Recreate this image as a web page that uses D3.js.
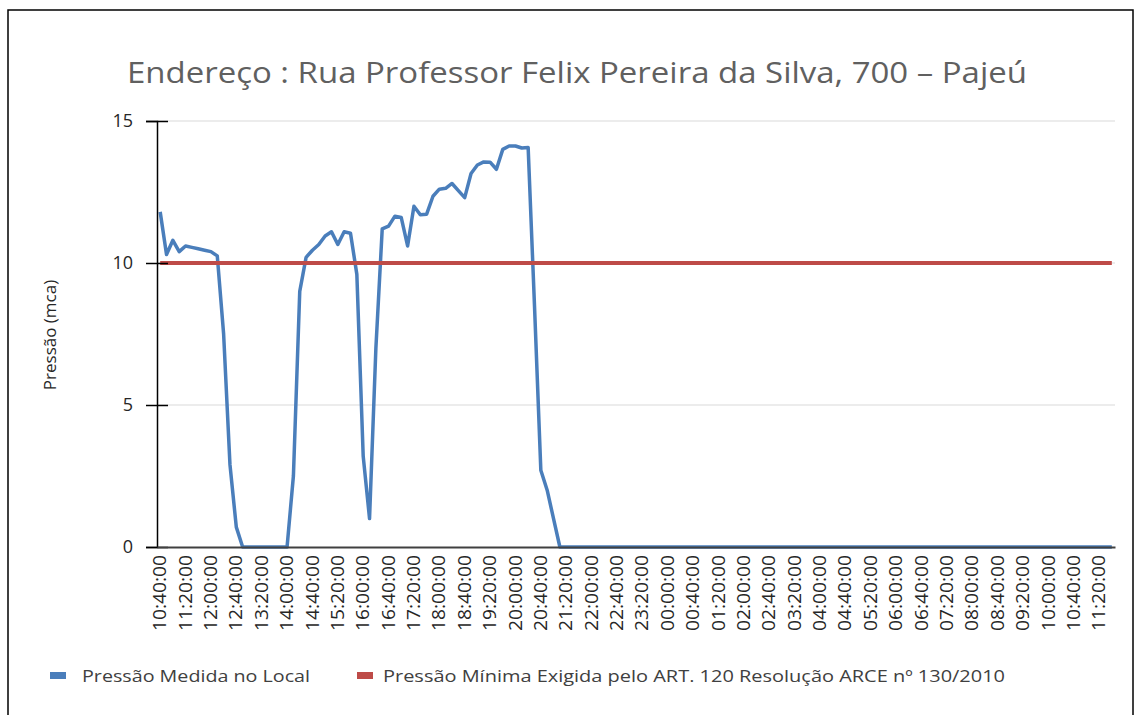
<!DOCTYPE html>
<html>
<head>
<meta charset="utf-8">
<script src="https://cdn.jsdelivr.net/npm/d3@7"></script>
<style>
  body { margin: 0; background: #fff; }
  text { font-family: "Open Sans", sans-serif; }
</style>
</head>
<body>
<script>
/*** Dados ***/
titulo = 'Endereço : Rua Professor Felix Pereira da Silva, 700 – Pajeú'
tituloY = 'Pressão (mca)'
legendas = ['Pressão Medida no Local', 'Pressão Mínima Exigida pelo ART. 120 Resolução ARCE nº 130/2010']

// leituras a cada 10 minutos, de 10:40 até 11:40 do dia seguinte
inicio = [10, 40]
passoMin = 10
nLeituras = 151

pressaoMedida = [
  11.8, 10.3, 10.8, 10.4, 10.6, 10.55, 10.5, 10.45, 10.4, 10.25,
  7.5, 2.9, 0.7, 0, 0, 0, 0, 0, 0, 0,
  0, 2.5, 9.0, 10.2, 10.45, 10.65, 10.95, 11.1, 10.65, 11.1,
  11.05, 9.6, 3.2, 1.0, 7.0, 11.2, 11.3, 11.65, 11.6, 10.6,
  12.0, 11.7, 11.72, 12.35, 12.6, 12.63, 12.8, 12.55, 12.3, 13.15,
  13.45, 13.56, 13.55, 13.3, 14.0, 14.12, 14.12, 14.05, 14.07, 8.5,
  2.7, 2.0, 1.0, 0, 0, 0, 0, 0, 0, 0,
  0, 0, 0, 0, 0, 0, 0, 0, 0, 0,
  0, 0, 0, 0, 0, 0, 0, 0, 0, 0,
  0, 0, 0, 0, 0, 0, 0, 0, 0, 0,
  0, 0, 0, 0, 0, 0, 0, 0, 0, 0,
  0, 0, 0, 0, 0, 0, 0, 0, 0, 0,
  0, 0, 0, 0, 0, 0, 0, 0, 0, 0,
  0, 0, 0, 0, 0, 0, 0, 0, 0, 0,
  0, 0, 0, 0, 0, 0, 0, 0, 0, 0,
  0
]
pressaoMinima = 10

yTicks = [0, 5, 10, 15]
intervaloRotulo = 4   // um rótulo a cada 40 min

/*** Auxiliares ***/
function pad(n){
  return (n < 10 ? '0' : '') + n
}

function getHorarios(){
  let lista = []
  for (let i = 0; i < nLeituras; i++) {
    let total = inicio[0] * 60 + inicio[1] + i * passoMin
    let h = Math.floor(total / 60) % 24
    let m = total % 60
    lista.push(pad(h) + ':' + pad(m) + ':00')
  }
  return lista
}

horarios = getHorarios()

/*** Gráfico ***/
function renderChart(){
  w = 1140
  h = 715
  left = 157
  right = 1115
  top_ = 121
  bottom = 547

  svg = d3.select('body')
          .append('svg')
          .attr('width', w)
          .attr('height', h)

  // moldura
  svg.append('rect')
     .attr('x', 8).attr('y', 10)
     .attr('width', 1125).attr('height', 730)
     .attr('fill', 'none')
     .attr('stroke', '#000')
     .attr('stroke-width', 1.5)

  svg.append('text')
     .attr('x', 127)
     .attr('y', 83)
     .attr('font-size', 30)
     .attr('fill', '#606060')
     .attr('textLength', 900)
     .attr('lengthAdjust', 'spacingAndGlyphs')
     .text(titulo)

  // Escalas
  xScale = d3.scaleBand()
             .domain(d3.range(nLeituras))
             .range([left, right])
  bw = xScale.bandwidth()
  cx = i => xScale(i) + bw / 2

  yScale = d3.scaleLinear()
             .domain([0, 15])
             .range([bottom, top_])

  // grade
  svg.append('g')
     .selectAll('line')
     .data(yTicks.filter(t => t > 0))
     .enter()
     .append('line')
       .attr('x1', left).attr('x2', right)
       .attr('y1', d => yScale(d)).attr('y2', d => yScale(d))
       .attr('stroke', '#d9d9d9')
       .attr('stroke-width', 1)

  // Linhas
  linha = d3.line()
            .x((d, i) => cx(i))
            .y(d => yScale(d))

  svg.append('path')
     .datum(pressaoMedida)
     .attr('d', linha)
     .attr('fill', 'none')
     .attr('stroke', '#4a7ebb')
     .attr('stroke-width', 3.5)
     .attr('stroke-linejoin', 'round')

  svg.append('path')
     .datum(horarios.map(() => pressaoMinima))
     .attr('d', linha)
     .attr('fill', 'none')
     .attr('stroke', '#be4b48')
     .attr('stroke-width', 4)

  // Eixos
  yAxis = d3.axisLeft(yScale)
            .tickValues(yTicks)
            .tickSize(11)
            .tickPadding(13)
            .tickFormat(d3.format('d'))

  gy = svg.append('g')
     .attr('transform', `translate(${left}, 0)`)
     .call(yAxis)
  gy.select('.domain').attr('stroke', '#000').attr('stroke-width', 1.5)
  gy.selectAll('.tick line').attr('x1', 11).attr('stroke', '#000').attr('stroke-width', 1.5)
  gy.selectAll('.tick text')
    .attr('font-size', 18)
    .attr('font-family', '"Open Sans", sans-serif')
    .attr('fill', '#262626')

  xAxis = d3.axisBottom(xScale)
            .tickValues(d3.range(0, nLeituras, intervaloRotulo))
            .tickSize(0)
            .tickFormat(i => horarios[i])

  gx = svg.append('g')
     .attr('transform', `translate(0, ${bottom})`)
     .call(xAxis)
  gx.select('.domain').attr('stroke', '#404040').attr('stroke-width', 2)
  gx.selectAll('.tick text')
    .attr('transform', 'rotate(-90)')
    .attr('text-anchor', 'end')
    .attr('x', -8)
    .attr('y', 0)
    .attr('dy', '0.35em')
    .attr('font-size', 17.5)
    .attr('font-family', '"Open Sans", sans-serif')
    .attr('fill', '#262626')
    .attr('textLength', 76)
    .attr('lengthAdjust', 'spacingAndGlyphs')

  svg.append('text')
     .attr('transform', 'translate(50, 335) rotate(-90)')
     .attr('text-anchor', 'middle')
     .attr('dy', '0.35em')
     .attr('font-size', 17)
     .attr('fill', '#262626')
     .text(tituloY)

  // Legenda
  cores = ['#4a7ebb', '#be4b48']
  posLeg = [[50, 82, 228], [357, 383, 622]]

  leg = svg.selectAll('.leg')
           .data(legendas)
           .enter()
           .append('g')
           .attr('class', 'leg')

  leg.append('rect')
     .attr('x', (d, i) => posLeg[i][0])
     .attr('y', 672)
     .attr('width', 16)
     .attr('height', 7)
     .attr('fill', (d, i) => cores[i])

  leg.append('text')
     .attr('x', (d, i) => posLeg[i][1])
     .attr('y', 682)
     .attr('font-size', 17)
     .attr('fill', '#404040')
     .attr('textLength', (d, i) => posLeg[i][2])
     .attr('lengthAdjust', 'spacingAndGlyphs')
     .text(d => d)
}

renderChart()
</script>
</body>
</html>
